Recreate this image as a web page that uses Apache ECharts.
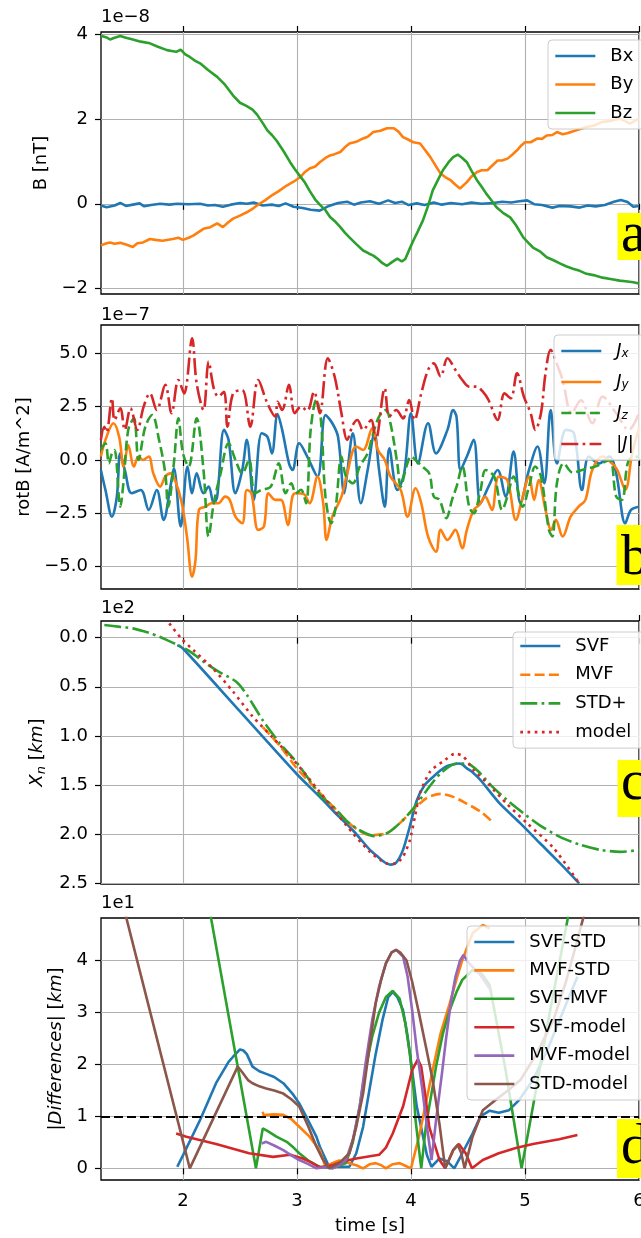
<!DOCTYPE html>
<html><head><meta charset="utf-8">
<script src="https://cdn.jsdelivr.net/npm/echarts@6/dist/echarts.min.js"></script>
<style>html,body{margin:0;padding:0;background:#fff}#c{width:641px;height:1238px}</style>
</head><body><div id="c"></div><script>
// ---------- tick labels / categories ----------
const xTicks = [2, 3, 4, 5, 6];
const yTicksA = [-2, 0, 2, 4];
const yTicksB = [-5, -2.5, 0, 2.5, 5];
const yTicksC = [0, 0.5, 1, 1.5, 2, 2.5];
const yTicksD = [0, 1, 2, 3, 4];
const namesA = ['Bx', 'By', 'Bz'];
const namesB = ['Jx', 'Jy', 'Jz', '|J|'];
const namesC = ['SVF', 'MVF', 'STD+', 'model'];
const namesD = ['SVF-STD', 'MVF-STD', 'SVF-MVF', 'SVF-model', 'MVF-model', 'STD-model'];

// ---------- panel a: B [1e-8 nT] vs time [s] ----------
const Bx = [[1.28,-0.04],[1.33,-0.08],[1.40,-0.04],[1.45,0.02],[1.50,-0.05],[1.56,-0.02],[1.62,0.01],[1.66,-0.06],[1.72,-0.03],[1.80,0.0],[1.88,-0.02],[1.95,0.0],[2.05,-0.01],[2.15,0.0],[2.22,-0.04],[2.28,-0.03],[2.35,-0.07],[2.42,-0.02],[2.50,0.02],[2.56,0.0],[2.62,0.03],[2.70,-0.04],[2.78,-0.02],[2.84,-0.05],[2.90,0.01],[2.97,-0.07],[3.05,-0.10],[3.12,-0.14],[3.20,-0.16],[3.28,-0.05],[3.36,0.02],[3.44,0.05],[3.50,-0.02],[3.56,0.03],[3.64,0.06],[3.72,0.0],[3.80,0.08],[3.86,0.02],[3.92,0.05],[3.98,-0.03],[4.05,0.01],[4.12,-0.03],[4.20,0.03],[4.27,-0.02],[4.35,0.02],[4.45,-0.01],[4.53,0.03],[4.62,0.0],[4.72,0.02],[4.80,0.05],[4.88,0.03],[4.95,0.06],[5.02,0.08],[5.08,-0.01],[5.15,-0.03],[5.24,-0.09],[5.30,-0.05],[5.40,-0.06],[5.48,-0.09],[5.55,-0.04],[5.62,-0.06],[5.70,-0.03],[5.78,0.05],[5.84,0.09],[5.90,0.04],[5.95,-0.07],[6.0,-0.05]];
const By = [[1.28,-0.98],[1.33,-0.93],[1.36,-0.91],[1.40,-0.94],[1.45,-0.92],[1.50,-0.96],[1.56,-1.02],[1.60,-0.93],[1.65,-0.91],[1.71,-0.83],[1.76,-0.85],[1.82,-0.87],[1.91,-0.83],[1.96,-0.80],[2.00,-0.85],[2.05,-0.80],[2.09,-0.75],[2.14,-0.66],[2.18,-0.59],[2.24,-0.55],[2.30,-0.46],[2.35,-0.55],[2.40,-0.43],[2.44,-0.35],[2.50,-0.28],[2.56,-0.20],[2.62,-0.10],[2.67,0.0],[2.72,0.08],[2.78,0.20],[2.84,0.30],[2.91,0.43],[2.97,0.52],[3.03,0.63],[3.07,0.75],[3.11,0.83],[3.16,0.88],[3.20,0.98],[3.25,1.08],[3.29,1.14],[3.33,1.17],[3.38,1.22],[3.42,1.33],[3.46,1.42],[3.52,1.46],[3.58,1.54],[3.62,1.58],[3.67,1.69],[3.73,1.72],[3.79,1.78],[3.85,1.78],[3.89,1.70],[3.93,1.57],[3.97,1.52],[4.02,1.45],[4.08,1.42],[4.12,1.28],[4.17,1.10],[4.22,0.88],[4.26,0.71],[4.30,0.63],[4.35,0.55],[4.39,0.45],[4.43,0.36],[4.49,0.51],[4.53,0.64],[4.58,0.75],[4.62,0.79],[4.67,0.79],[4.72,0.92],[4.76,1.02],[4.80,1.02],[4.85,1.07],[4.89,1.16],[4.93,1.26],[4.97,1.38],[5.00,1.45],[5.05,1.45],[5.11,1.54],[5.15,1.53],[5.19,1.61],[5.24,1.62],[5.28,1.69],[5.33,1.64],[5.37,1.66],[5.45,1.73],[5.54,1.81],[5.60,1.84],[5.68,1.93],[5.75,1.95],[5.83,2.01],[5.88,1.95],[5.92,1.89],[5.96,1.95],[6.0,2.01]];
const Bz = [[1.28,3.96],[1.33,3.92],[1.36,3.87],[1.40,3.91],[1.45,3.95],[1.50,3.91],[1.56,3.87],[1.63,3.82],[1.71,3.78],[1.78,3.70],[1.86,3.62],[1.90,3.60],[1.94,3.58],[1.98,3.63],[2.02,3.52],[2.06,3.46],[2.10,3.38],[2.15,3.31],[2.22,3.15],[2.30,2.99],[2.37,2.80],[2.44,2.55],[2.50,2.38],[2.56,2.30],[2.61,2.22],[2.65,2.10],[2.70,1.90],[2.74,1.73],[2.78,1.62],[2.82,1.49],[2.88,1.25],[2.94,0.98],[2.98,0.82],[3.03,0.64],[3.07,0.50],[3.11,0.31],[3.16,0.10],[3.20,-0.02],[3.25,-0.15],[3.29,-0.31],[3.34,-0.43],[3.38,-0.55],[3.42,-0.68],[3.46,-0.79],[3.52,-0.95],[3.58,-1.10],[3.63,-1.17],[3.67,-1.22],[3.71,-1.30],[3.75,-1.40],[3.79,-1.46],[3.83,-1.38],[3.88,-1.29],[3.92,-1.36],[3.95,-1.30],[3.99,-1.05],[4.02,-0.87],[4.06,-0.65],[4.105,-0.39],[4.15,-0.05],[4.19,0.31],[4.24,0.58],[4.28,0.79],[4.33,0.98],[4.37,1.10],[4.41,1.16],[4.45,1.08],[4.49,0.98],[4.53,0.78],[4.58,0.55],[4.62,0.40],[4.66,0.24],[4.70,0.10],[4.75,-0.08],[4.81,-0.22],[4.87,-0.32],[4.92,-0.50],[4.985,-0.79],[5.03,-0.92],[5.07,-1.03],[5.13,-1.12],[5.19,-1.26],[5.25,-1.33],[5.31,-1.41],[5.36,-1.47],[5.42,-1.53],[5.48,-1.58],[5.54,-1.65],[5.60,-1.68],[5.68,-1.74],[5.75,-1.77],[5.83,-1.81],[5.90,-1.83],[5.95,-1.85],[6.0,-1.88]];

// ---------- panel b: rotB [1e-7 A/m^2] ----------
const Jx = [[1.28,-0.47],[1.32,-1.41],[1.377,-2.66],[1.42,-1.72],[1.45,0.31],[1.49,-0.47],[1.55,-1.56],[1.63,-1.41],[1.70,-2.34],[1.77,-1.41],[1.83,-2.81],[1.89,-1.25],[1.92,-0.39],[1.98,-3.12],[2.04,-0.31],[2.08,-1.56],[2.12,-0.63],[2.18,-1.56],[2.225,-1.25],[2.27,-2.03],[2.30,-1.72],[2.36,1.41],[2.40,0.94],[2.46,-1.56],[2.52,-0.47],[2.56,0.94],[2.62,-1.87],[2.69,1.25],[2.74,1.09],[2.78,0.31],[2.83,2.15],[2.87,1.41],[2.93,-0.16],[2.96,-0.47],[3.02,0.78],[3.09,0.16],[3.18,-0.78],[3.25,2.11],[3.31,1.72],[3.36,1.09],[3.415,-1.56],[3.44,-0.63],[3.49,1.25],[3.56,-2.03],[3.62,-0.47],[3.68,1.25],[3.72,-0.47],[3.77,-2.19],[3.81,0.55],[3.88,-1.41],[3.94,-0.63],[4.00,2.19],[4.06,-0.16],[4.15,1.72],[4.22,0.31],[4.32,1.41],[4.37,2.34],[4.40,2.0],[4.435,-0.47],[4.49,0.16],[4.55,0.94],[4.61,-2.03],[4.68,-1.25],[4.76,-0.47],[4.83,-1.72],[4.90,0.39],[4.96,-2.03],[5.035,-0.47],[5.11,0.63],[5.17,-1.09],[5.225,2.34],[5.28,-0.16],[5.36,1.41],[5.43,1.25],[5.50,-1.41],[5.56,0.16],[5.65,-0.16],[5.74,0.16],[5.80,-0.63],[5.88,-2.97],[5.93,-2.34],[6.00,-2.19]];
const Jy = [[1.28,0.16],[1.32,0.94],[1.39,1.72],[1.44,1.09],[1.48,-0.31],[1.52,0.70],[1.57,-0.31],[1.61,0.16],[1.65,0.0],[1.70,0.16],[1.74,-0.63],[1.80,-1.25],[1.845,-0.78],[1.89,-0.63],[1.93,-0.94],[1.99,-2.03],[2.035,-3.59],[2.08,-5.47],[2.11,-4.69],[2.14,-2.34],[2.20,-2.19],[2.25,-2.03],[2.31,-2.03],[2.37,-1.72],[2.41,-1.87],[2.46,-2.66],[2.52,-2.97],[2.56,-1.41],[2.60,-1.56],[2.66,-3.28],[2.71,-3.12],[2.75,-1.56],[2.81,-1.87],[2.86,-1.87],[2.92,-3.05],[2.96,-1.72],[2.99,-1.56],[3.06,-1.60],[3.11,-2.03],[3.18,-0.78],[3.23,-2.03],[3.26,-3.75],[3.31,-2.66],[3.39,-1.72],[3.44,-0.63],[3.52,0.63],[3.58,0.47],[3.66,1.48],[3.71,0.47],[3.77,0.0],[3.82,-0.78],[3.91,-1.41],[3.97,-2.66],[4.04,-1.33],[4.09,-2.03],[4.15,-3.59],[4.22,-4.30],[4.26,-3.28],[4.32,-3.75],[4.39,-3.28],[4.45,-4.14],[4.49,-3.28],[4.55,-2.34],[4.60,-2.11],[4.65,-1.72],[4.71,-2.34],[4.77,-0.78],[4.845,-0.94],[4.92,-2.81],[4.98,-1.72],[5.035,-0.78],[5.08,-1.87],[5.12,-0.94],[5.18,-2.34],[5.23,-3.28],[5.27,-2.81],[5.33,-3.59],[5.40,-2.66],[5.47,-2.19],[5.53,-1.87],[5.59,-0.47],[5.68,0.16],[5.77,-0.20],[5.81,-0.47],[5.88,-1.40],[5.94,0.30],[6.00,1.50]];
const Jz = [[1.28,0.47],[1.32,0.78],[1.35,-0.16],[1.377,0.31],[1.40,0.47],[1.45,-2.19],[1.48,-0.94],[1.52,1.41],[1.57,1.95],[1.61,0.0],[1.67,1.56],[1.73,2.11],[1.79,0.94],[1.845,-0.63],[1.87,-2.19],[1.92,-0.16],[1.96,1.95],[2.00,0.31],[2.05,-0.31],[2.12,1.95],[2.18,-0.47],[2.225,-3.59],[2.27,-2.03],[2.33,-0.63],[2.40,0.78],[2.46,0.0],[2.52,-0.63],[2.58,0.0],[2.63,-1.56],[2.69,-1.40],[2.77,-1.25],[2.84,-0.16],[2.90,-1.56],[2.95,-1.09],[2.99,-1.56],[3.035,-1.40],[3.08,-2.03],[3.12,1.41],[3.17,2.81],[3.21,1.87],[3.25,-1.72],[3.30,-2.97],[3.34,-2.19],[3.39,0.16],[3.43,-0.78],[3.49,-1.09],[3.55,-0.31],[3.62,0.31],[3.66,1.09],[3.72,2.03],[3.78,2.34],[3.82,1.72],[3.88,-0.16],[3.91,-1.25],[3.96,-0.31],[4.00,0.16],[4.04,0.0],[4.10,-0.31],[4.16,-0.63],[4.20,-1.72],[4.25,-1.87],[4.31,-2.73],[4.36,-1.87],[4.40,-1.25],[4.45,-0.31],[4.51,-2.19],[4.55,-2.50],[4.61,-1.41],[4.655,-0.47],[4.73,-0.78],[4.80,-2.34],[4.845,-1.72],[4.90,-0.78],[4.98,-2.19],[5.035,-1.25],[5.09,-0.31],[5.14,-0.78],[5.21,-3.28],[5.24,-3.59],[5.28,-1.09],[5.34,-0.16],[5.42,-0.60],[5.50,-0.47],[5.62,-0.30],[5.74,0.0],[5.80,-1.72],[5.85,-1.87],[5.91,0.0],[6.00,0.16]];
const Jabs = [[1.28,0.94],[1.31,1.56],[1.33,1.30],[1.377,2.89],[1.40,1.87],[1.45,2.42],[1.49,1.41],[1.54,2.42],[1.60,1.41],[1.655,2.50],[1.71,3.12],[1.77,2.34],[1.845,3.52],[1.90,2.19],[1.96,3.75],[2.01,3.12],[2.08,5.70],[2.12,3.59],[2.18,2.34],[2.225,4.61],[2.27,3.36],[2.31,2.97],[2.36,3.20],[2.39,1.56],[2.44,3.12],[2.52,3.28],[2.59,1.56],[2.66,3.75],[2.74,2.66],[2.81,2.03],[2.83,2.73],[2.87,2.34],[2.93,3.52],[2.98,2.19],[3.035,2.50],[3.09,2.30],[3.15,3.20],[3.20,2.19],[3.27,4.77],[3.33,3.91],[3.39,2.19],[3.44,0.94],[3.49,1.64],[3.53,1.875],[3.58,1.41],[3.65,1.875],[3.69,0.94],[3.77,3.36],[3.81,2.03],[3.87,2.34],[3.93,1.95],[3.985,2.81],[4.03,1.875],[4.09,3.12],[4.15,4.22],[4.20,4.53],[4.26,3.91],[4.32,4.77],[4.39,4.22],[4.45,3.75],[4.51,3.44],[4.57,3.44],[4.63,3.20],[4.68,2.81],[4.76,1.875],[4.82,3.12],[4.875,2.89],[4.93,4.06],[4.99,2.97],[5.05,2.19],[5.09,1.41],[5.14,2.19],[5.18,4.06],[5.225,5.16],[5.28,4.50],[5.33,3.75],[5.41,2.19],[5.49,2.80],[5.59,1.72],[5.68,2.97],[5.80,2.19],[5.91,1.41],[6.00,2.20]];

// ---------- panel c: X_n [1e2 km] ----------
const SVF = [[1.95,0.075],[2.00,0.11],[2.50,0.75],[3.00,1.39],[3.20,1.62],[3.35,1.80],[3.49,1.96],[3.64,2.16],[3.70,2.22],[3.75,2.27],[3.79,2.30],[3.82,2.31],[3.87,2.29],[3.93,2.16],[3.99,1.92],[4.05,1.66],[4.12,1.50],[4.20,1.41],[4.26,1.35],[4.31,1.31],[4.37,1.29],[4.42,1.28],[4.45,1.29],[4.49,1.33],[4.53,1.36],[4.61,1.45],[4.78,1.69],[4.96,1.89],[5.13,2.09],[5.31,2.30],[5.475,2.50]];
const MVF = [[2.70,0.91],[2.85,1.10],[3.00,1.33],[3.20,1.58],[3.35,1.76],[3.49,1.92],[3.64,2.01],[3.79,1.99],[3.90,1.89],[4.02,1.75],[4.14,1.63],[4.26,1.59],[4.37,1.62],[4.49,1.69],[4.61,1.77],[4.70,1.86]];
const STDp = [[1.31,-0.129],[1.45,-0.11],[1.56,-0.095],[1.70,-0.05],[1.795,-0.01],[1.87,0.03],[1.956,0.075],[2.06,0.14],[2.20,0.26],[2.32,0.35],[2.47,0.45],[2.56,0.58],[2.70,0.84],[2.85,1.075],[2.99,1.26],[3.11,1.45],[3.20,1.60],[3.32,1.72],[3.43,1.86],[3.55,1.96],[3.68,2.02],[3.79,1.99],[3.90,1.89],[4.02,1.74],[4.14,1.55],[4.26,1.38],[4.40,1.28],[4.49,1.28],[4.58,1.35],[4.70,1.50],[4.84,1.65],[4.99,1.79],[5.13,1.91],[5.31,2.03],[5.49,2.11],[5.66,2.16],[5.84,2.18],[6.00,2.16]];
const MODEL = [[1.88,-0.146],[1.985,0.007],[2.09,0.125],[2.26,0.31],[2.44,0.55],[2.61,0.80],[2.79,1.02],[2.96,1.23],[3.20,1.57],[3.35,1.79],[3.49,1.99],[3.64,2.18],[3.74,2.27],[3.79,2.30],[3.86,2.30],[3.93,2.23],[3.99,2.06],[4.035,1.82],[4.08,1.58],[4.17,1.36],[4.28,1.26],[4.39,1.18],[4.46,1.21],[4.55,1.35],[4.67,1.48],[4.84,1.69],[5.02,1.89],[5.25,2.14],[5.475,2.50]];

// ---------- panel d: |Differences| [1e1 km] ----------
const dSvfStd = [[1.95,0.03],[1.96,0.0],[2.00,0.25],[2.15,0.93],[2.29,1.64],[2.40,2.05],[2.44,2.15],[2.50,2.29],[2.53,2.27],[2.56,2.20],[2.61,1.96],[2.67,1.87],[2.73,1.82],[2.80,1.76],[2.88,1.64],[2.96,1.44],[3.02,1.25],[3.08,1.0],[3.17,0.61],[3.20,0.42],[3.28,0.04],[3.37,0.03],[3.46,0.03],[3.52,0.29],[3.58,0.80],[3.63,1.44],[3.69,2.20],[3.75,2.86],[3.80,3.30],[3.84,3.40],[3.88,3.30],[3.93,3.05],[3.97,2.55],[4.01,1.89],[4.05,1.20],[4.10,0.67],[4.14,0.25],[4.18,0.03],[4.25,0.19],[4.32,0.13],[4.38,0.0],[4.45,0.29],[4.54,0.67],[4.61,1.0],[4.69,1.11],[4.77,1.07],[4.86,1.12],[4.95,1.32],[5.07,1.70],[5.20,2.30],[5.33,3.0],[5.46,3.69]];
const dMvfStd = [[2.70,1.09],[2.71,1.0],[2.73,1.03],[2.80,1.04],[2.88,1.03],[2.95,0.95],[3.02,0.80],[3.11,0.61],[3.20,0.35],[3.25,0.03],[3.31,0.10],[3.37,0.15],[3.46,0.10],[3.52,0.06],[3.58,0.0],[3.64,0.08],[3.69,0.10],[3.74,0.06],[3.78,0.0],[3.84,0.08],[3.90,0.10],[3.95,0.05],[4.00,0.0],[4.07,0.61],[4.13,1.25],[4.19,1.89],[4.26,2.60],[4.34,3.18],[4.40,3.65],[4.45,4.01],[4.54,4.53],[4.63,4.69],[4.69,4.62]];
const dSvfMvf = [[2.15,6.0],[2.64,0.0],[2.70,0.77],[2.74,0.72],[2.82,0.61],[2.91,0.51],[2.97,0.40],[3.02,0.29],[3.10,0.15],[3.17,0.06],[3.20,0.03],[3.31,0.0],[3.43,0.10],[3.49,0.50],[3.55,1.19],[3.60,1.90],[3.66,2.54],[3.72,3.0],[3.78,3.30],[3.84,3.42],[3.90,3.27],[3.95,2.80],[3.99,2.21],[4.02,1.60],[4.04,0.93],[4.09,0.0],[4.13,0.80],[4.22,1.96],[4.28,2.60],[4.34,3.05],[4.40,3.40],[4.45,3.63],[4.54,3.82],[4.62,3.75],[4.69,3.53],[4.83,1.89],[4.97,0.0],[5.07,1.19],[5.20,2.80],[5.40,5.10]];
const dSvfModel = [[1.94,0.67],[2.03,0.61],[2.29,0.47],[2.58,0.29],[2.79,0.22],[2.94,0.26],[3.05,0.19],[3.12,0.12],[3.20,0.02],[3.31,0.06],[3.40,0.13],[3.52,0.19],[3.72,0.26],[3.78,0.40],[3.84,0.67],[3.93,1.19],[4.01,1.89],[4.06,2.10],[4.09,1.96],[4.12,1.50],[4.16,0.80],[4.25,0.16],[4.30,0.0],[4.37,0.35],[4.42,0.47],[4.48,0.29],[4.535,0.0],[4.63,0.16],[4.77,0.29],[4.92,0.39],[5.07,0.47],[5.30,0.56],[5.46,0.64]];
const dMvfModel = [[2.69,0.48],[2.73,0.51],[2.80,0.44],[2.88,0.35],[2.95,0.25],[3.02,0.16],[3.10,0.08],[3.17,0.0],[3.25,0.02],[3.31,0.0],[3.37,0.06],[3.43,0.16],[3.49,0.55],[3.55,1.19],[3.60,2.0],[3.66,2.86],[3.72,3.50],[3.78,3.95],[3.83,4.16],[3.87,4.21],[3.93,4.08],[3.97,3.70],[4.01,3.05],[4.05,2.30],[4.10,1.51],[4.14,0.80],[4.18,0.16],[4.22,0.93],[4.27,1.80],[4.31,2.54],[4.35,3.20],[4.39,3.69],[4.43,4.0],[4.46,4.11],[4.51,3.95],[4.60,3.75],[4.70,3.43]];
const dStdModel = [[1.31,6.5],[2.06,0.0],[2.48,1.96],[2.52,1.85],[2.57,1.70],[2.61,1.64],[2.67,1.58],[2.73,1.54],[2.80,1.50],[2.88,1.44],[2.95,1.33],[3.02,1.19],[3.10,0.80],[3.17,0.42],[3.22,0.20],[3.28,0.0],[3.37,0.10],[3.46,0.29],[3.52,0.80],[3.58,1.44],[3.64,2.40],[3.69,3.18],[3.74,3.65],[3.78,3.95],[3.83,4.16],[3.87,4.21],[3.91,4.15],[3.96,4.01],[4.01,3.60],[4.07,2.99],[4.13,2.35],[4.19,1.70],[4.25,0.85],[4.30,0.0],[4.37,0.35],[4.41,0.45],[4.44,0.30],[4.47,0.0],[4.54,0.61],[4.63,1.12],[4.72,1.28],[4.85,1.50],[4.96,1.70],[5.10,2.20],[5.25,2.86],[5.36,3.60],[5.46,4.40],[5.52,4.90]];
const threshold = 1;

// ---------- styling ----------
const FONT = 'DejaVu Sans';
const C = ['#1f77b4', '#ff7f0e', '#2ca02c', '#d62728', '#9467bd', '#8c564b'];
const LW = 2.6;
const DASH = [10, 4.3], DASHDOT = [17, 4.3, 2.7, 4.3], DOT = [2.7, 4.5];
const X_MIN = 1.281, X_MAX = 6.0;
const fmt = (v, d) => (v < 0 ? '\u2212' : '') + Math.abs(v).toFixed(d);

const grids = [
  {left: 101, top: 32, width: 538, height: 262},
  {left: 101, top: 325, width: 538, height: 264},
  {left: 101, top: 621, width: 538, height: 263},
  {left: 101, top: 918, width: 538, height: 262}
].map(g => Object.assign({show: true, borderColor: '#000', borderWidth: 1.3, backgroundColor: 'transparent', outerBoundsMode: 'none', containLabel: false}, g));

const tickStyle = {lineStyle: {color: '#000', width: 1.2}, length: 6, inside: false};
const splitStyle = {show: true, lineStyle: {color: '#b0b0b0', width: 1.1}};
const labelBase = {fontSize: 18, fontFamily: FONT, color: '#000'};

function xAx(i, show) {
  return {type: 'value', gridIndex: i, min: X_MIN, max: X_MAX,
    axisLine: {show: false},
    axisTick: Object.assign({show: true, customValues: xTicks}, tickStyle),
    axisLabel: Object.assign({show: show, customValues: xTicks, margin: 12, formatter: v => fmt(v, 0)}, labelBase),
    splitLine: splitStyle,
    name: show ? 'time [s]' : '', nameLocation: 'middle', nameGap: 37,
    nameTextStyle: {fontSize: 18, fontFamily: FONT, color: '#000'}};
}
function xTop(i) {
  return {type: 'value', gridIndex: i, position: 'top', min: X_MIN, max: X_MAX,
    axisLine: {show: false}, axisTick: Object.assign({show: true, customValues: xTicks}, tickStyle),
    axisLabel: {show: false, customValues: xTicks}, splitLine: {show: false}};
}
function yAx(i, min, max, ticks, dec, name, gap, inverse, rich) {
  return {type: 'value', gridIndex: i, min: min, max: max, inverse: !!inverse,
    axisLine: {show: false},
    axisTick: Object.assign({show: true, customValues: ticks}, tickStyle),
    axisLabel: Object.assign({customValues: ticks, margin: 13, formatter: v => fmt(v, dec)}, labelBase),
    splitLine: splitStyle,
    name: name, nameLocation: 'middle', nameGap: gap, nameRotate: 90,
    nameTextStyle: {fontSize: 18, fontFamily: FONT, color: '#000', rich: rich || {}}};
}
const richName = {
  i: {fontSize: 18, fontFamily: FONT, fontStyle: 'italic', color: '#000'},
  s: {fontSize: 13, fontFamily: FONT, fontStyle: 'italic', color: '#000', verticalAlign: 'bottom', lineHeight: 22},
  r: {fontSize: 18, fontFamily: FONT, color: '#000'}
};

function ln(name, data, color, gi, type, extra) {
  return Object.assign({type: 'line', name: name, data: data, xAxisIndex: gi, yAxisIndex: gi,
    symbol: 'none', showSymbol: false, animation: false,
    lineStyle: {color: color, width: LW, type: type || 'solid'}, itemStyle: {color: color}}, extra || {});
}
const smoothB = {smooth: 0.35};
const smoothC = {smooth: 0.25};

const legendBase = {orient: 'vertical', itemWidth: 40, itemHeight: 18, selectedMode: false,
  backgroundColor: 'rgba(255,255,255,0.8)', borderColor: '#cccccc', borderWidth: 1, borderRadius: 4,
  lineStyle: {width: LW},
  itemStyle: {color: 'rgba(0,0,0,0)', borderWidth: 0, borderColor: 'rgba(0,0,0,0)', opacity: 0},
  textStyle: {fontSize: 18, fontFamily: FONT, color: '#000', lineHeight: 18, padding: [0, 0, 0, 10],
    rich: {
      i: {fontSize: 18, fontFamily: FONT, fontStyle: 'italic', color: '#000', lineHeight: 18},
      s: {fontSize: 12, fontFamily: FONT, fontStyle: 'italic', color: '#000', lineHeight: 18, verticalAlign: 'bottom'}
    }}};

function box(x, y, h, letter, cy) {
  return [
    {type: 'rect', z: 100, shape: {x: x, y: y, width: 40, height: h}, style: {fill: '#ffff00'}},
    {type: 'text', z: 101, style: {text: letter, x: 621, y: cy, fontSize: 56, fontFamily: 'Liberation Serif', fill: '#000', verticalAlign: 'middle'}}
  ];
}
function offText(t, cy) {
  return {type: 'text', z: 100, style: {text: t, x: 101, y: cy, fontSize: 18, fontFamily: FONT, fill: '#000', verticalAlign: 'middle'}};
}

const option = {
  animation: false,
  backgroundColor: '#fff',
  grid: grids,
  xAxis: [xAx(0, false), xAx(1, false), xAx(2, false), xAx(3, true), xTop(0), xTop(2)],
  yAxis: [
    yAx(0, -2.125, 4.047, yTicksA, 0, 'B [nT]', 50),
    yAx(1, -6.05, 6.327, yTicksB, 1, 'rotB [A/m^2]', 66),
    yAx(2, -0.17, 2.507, yTicksC, 1, '{i|X}{s|n}{r| [}{i|km}{r|]}', 52, true, richName),
    yAx(3, -0.225, 4.823, yTicksD, 0, '{i||Differences|}{r| [}{i|km}{r|]}', 36, false, richName)
  ],
  legend: [
    Object.assign({}, legendBase, {data: namesA, left: 548, top: 40, itemGap: 10.5, padding: [7, 14, 7, 6]}),
    Object.assign({}, legendBase, {data: namesB, left: 554, top: 335, itemGap: 13, padding: [7, 14, 7, 6],
      formatter: n => n === '|J|' ? '{i||J|}' : '{i|J}{s|' + n.charAt(1) + '}'}),
    Object.assign({}, legendBase, {data: namesC, left: 513, top: 632, itemGap: 10.7, padding: [5, 14, 7, 6]}),
    Object.assign({}, legendBase, {data: namesD, left: 467, top: 926, itemGap: 10.4, padding: [7, 14, 7, 6]})
  ],
  series: [
    ln(namesA[0], Bx, C[0], 0), ln(namesA[1], By, C[1], 0), ln(namesA[2], Bz, C[2], 0),
    ln(namesB[0], Jx, C[0], 1, 'solid', smoothB), ln(namesB[1], Jy, C[1], 1, 'solid', smoothB),
    ln(namesB[2], Jz, C[2], 1, DASH, smoothB), ln(namesB[3], Jabs, C[3], 1, DASHDOT, smoothB),
    ln(namesC[0], SVF, C[0], 2, 'solid', smoothC), ln(namesC[1], MVF, C[1], 2, DASH, smoothC),
    ln(namesC[2], STDp, C[2], 2, DASHDOT, smoothC), ln(namesC[3], MODEL, C[3], 2, DOT, smoothC),
    ln(namesD[0], dSvfStd, C[0], 3, 'solid', {markLine: {silent: true, symbol: 'none', animation: false, label: {show: false},
      lineStyle: {color: '#000', type: [9, 4], width: 1.8}, data: [{yAxis: threshold}]}}),
    ln(namesD[1], dMvfStd, C[1], 3), ln(namesD[2], dSvfMvf, C[2], 3), ln(namesD[3], dSvfModel, C[3], 3),
    ln(namesD[4], dMvfModel, C[4], 3), ln(namesD[5], dStdModel, C[5], 3)
  ],
  graphic: {elements: [].concat(
    box(617.5, 213, 47, 'a', 236),
    box(616.5, 525, 60, 'b', 559),
    box(617.5, 760, 57, 'c', 784),
    box(617, 1119, 59, 'd', 1148),
    [offText('1e\u22128', 17.5), offText('1e\u22127', 315), offText('1e2', 608), offText('1e1', 903.5)]
  )}
};
const chart = echarts.init(document.getElementById('c'), null, {renderer: 'canvas'});
chart.setOption(option);
</script></body></html>
